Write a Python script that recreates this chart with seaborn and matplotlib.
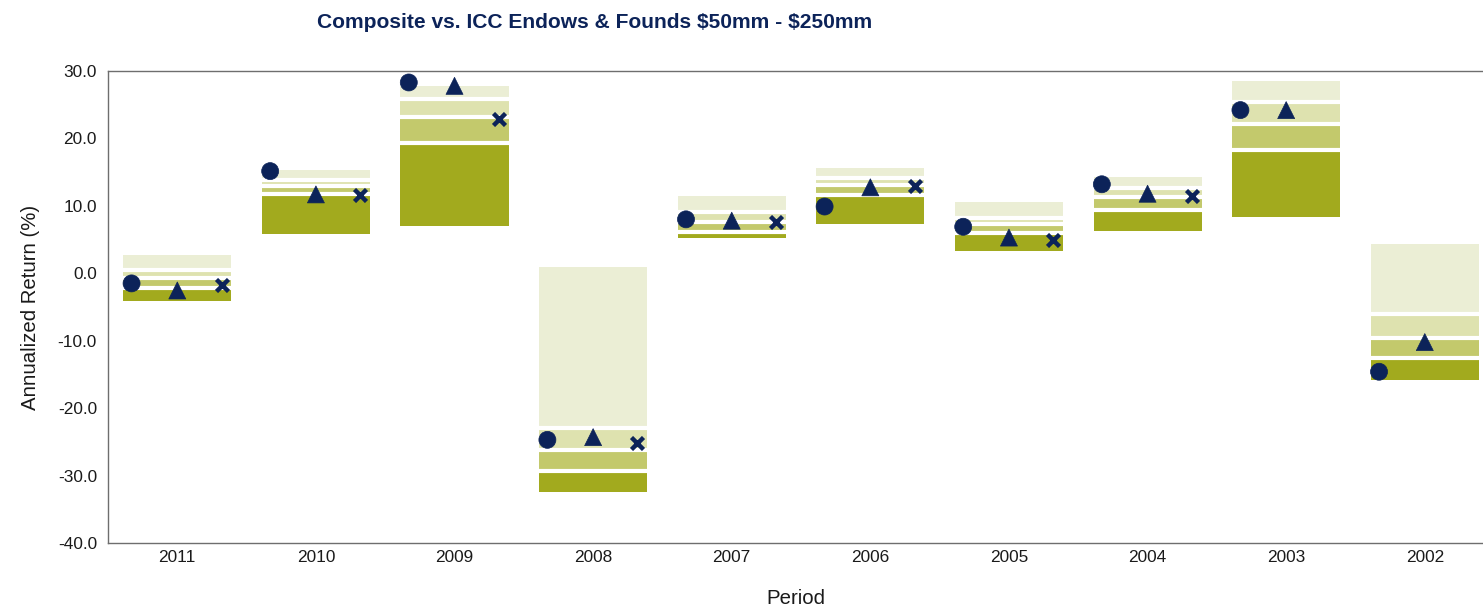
import matplotlib
matplotlib.use("Agg")
import matplotlib.pyplot as plt
import numpy as np
import pandas as pd
import seaborn as sns

# Peer universe percentile bands (5th / 25th / median / 75th / 95th) by calendar year
periods = ["2011", "2010", "2009", "2008", "2007", "2006", "2005", "2004", "2003", "2002"]
p05 = [2.7, 15.3, 27.8, 0.9, 11.5, 15.6, 10.6, 14.3, 28.5, 4.4]
p25 = [0.5, 13.85, 25.9, -22.9, 9.1, 14.1, 8.2, 12.65, 25.45, -6.0]
p50 = [-0.7, 12.9, 23.25, -26.25, 7.6, 13.1, 7.3, 11.3, 22.2, -9.6]
p75 = [-2.15, 11.75, 19.35, -29.3, 6.05, 11.65, 5.95, 9.45, 18.3, -12.55]
p95 = [-4.05, 5.9, 7.05, -32.5, 5.2, 7.25, 3.3, 6.25, 8.4, -15.9]

# Portfolio returns shown as markers
composite = [-1.5, 15.15, 28.3, -24.7, 8.0, 9.9, 6.9, 13.2, 24.2, -14.6]
series_tri = [-2.55, 11.7, 27.8, -24.3, 7.8, 12.75, 5.3, 11.8, 24.2, -10.2]
series_x = [-1.75, 11.6, 22.9, -25.2, 7.55, 12.95, 4.95, 11.5, np.nan, np.nan]

NAVY = "#0C2359"
BANDS = ["#EBEED5", "#DEE2AF", "#C3C96C", "#A2AA1E"]

sns.set_theme(style="white")
plt.rcParams["font.family"] = ["Liberation Sans", "DejaVu Sans"]

fig = plt.figure(figsize=(14.83, 6.05), dpi=100)
ax = fig.add_axes([108 / 1483, 62 / 605, 1 - 108 / 1483, 472 / 605])

x = np.arange(len(periods))
width = 0.78
edges = [p05, p25, p50, p75, p95]
for i, color in enumerate(BANDS):
    top = np.array(edges[i])
    bot = np.array(edges[i + 1])
    ax.bar(x, top - bot, bottom=bot, width=width, color=color, linewidth=0, zorder=1)

# white separators between the bands
for edge in (p25, p50, p75):
    ax.hlines(edge, x - width / 2, x + width / 2, colors="white", linewidth=3, zorder=2)

marks = pd.DataFrame({
    "x": np.concatenate([x - 0.33, x, x + 0.32]),
    "ret": composite + series_tri + series_x,
    "series": ["circle"] * 10 + ["tri"] * 10 + ["x"] * 10,
}).dropna()
sns.scatterplot(
    data=marks[marks.series != "x"], x="x", y="ret", style="series",
    markers={"circle": "o", "tri": "^"},
    s=150, color=NAVY, edgecolor=NAVY, linewidth=0.5,
    legend=False, ax=ax, zorder=3,
)
sns.scatterplot(
    data=marks[marks.series == "x"], x="x", y="ret",
    marker="x", s=75, color=NAVY, linewidth=3.2,
    legend=False, ax=ax, zorder=3,
)

ax.set_xlim(-0.5, 9.42)
ax.set_ylim(-40, 30)
ax.set_yticks(np.arange(-40, 31, 10))
ax.set_yticklabels([f"{v:.1f}" for v in np.arange(-40, 31, 10)])
ax.set_xticks(x)
ax.set_xticklabels(periods)
ax.tick_params(axis="y", length=6, width=1, color="#8A8A8A", labelsize=12.4, colors="#8A8A8A",
               labelcolor="#1A1A1A", pad=2)
ax.tick_params(axis="x", length=0, labelsize=12.4, labelcolor="#1A1A1A", pad=5)

for side in ("left", "bottom", "top"):
    ax.spines[side].set_color("#6E6E6E")
    ax.spines[side].set_linewidth(1)
ax.spines["right"].set_visible(False)

ax.set_xlabel("Period", fontsize=14.7, color="#1A1A1A", labelpad=17)
ax.set_ylabel("Annualized Return (%)", fontsize=14.7, color="#1A1A1A", labelpad=13)

fig.text(595 / 1483, 1 - 22 / 605, r"Composite vs. ICC Endows & Founds \$50mm - \$250mm",
         ha="center", va="center", fontsize=15.1, fontweight="bold", color=NAVY)

fig.savefig("out.png", dpi=100, facecolor="white")
